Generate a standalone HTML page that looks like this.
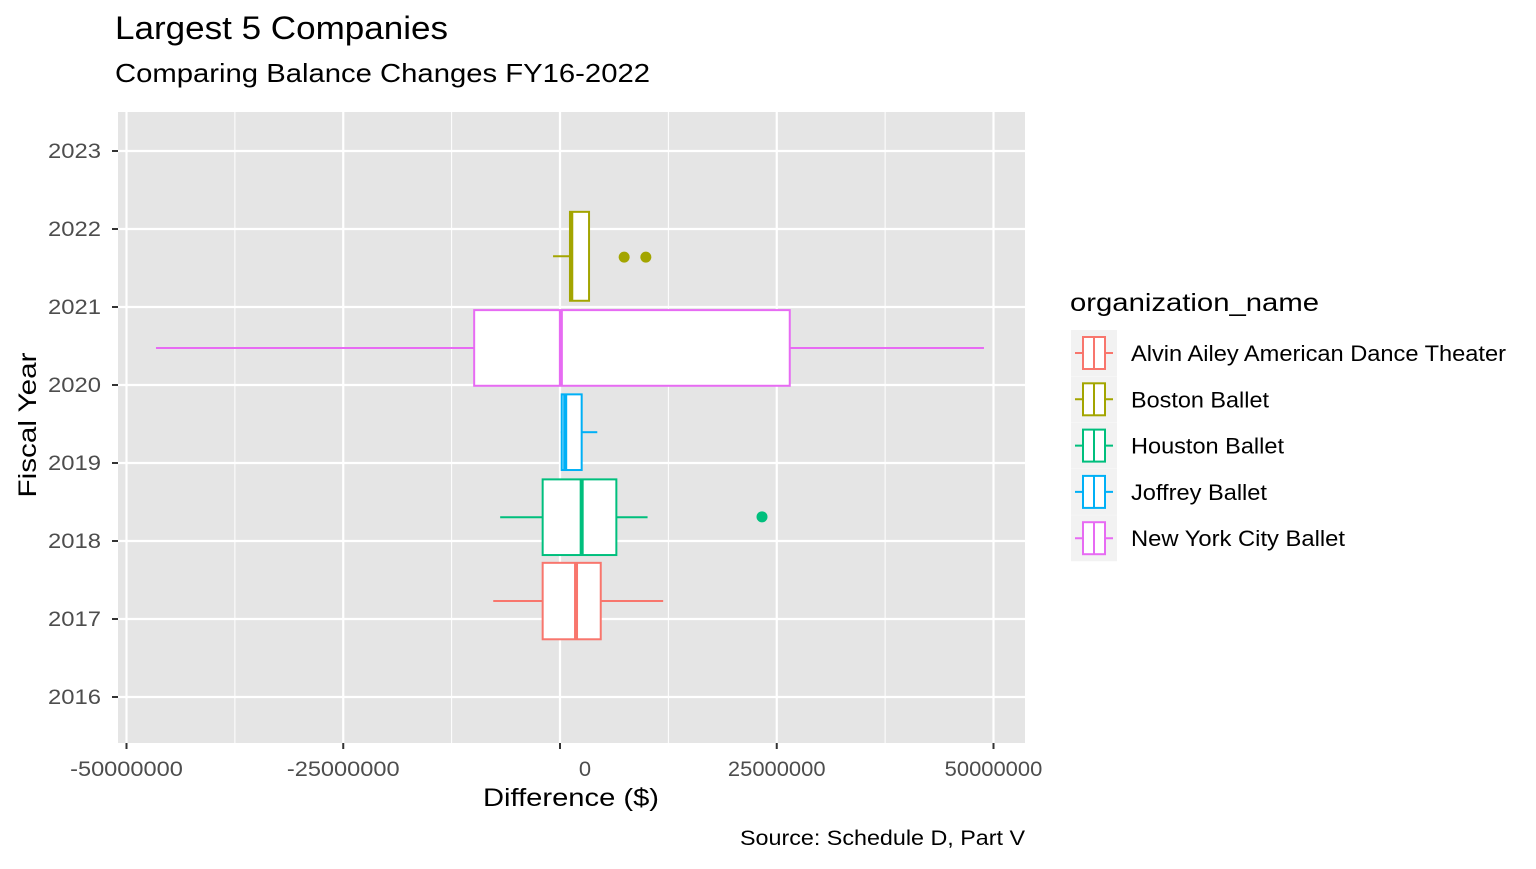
<!DOCTYPE html>
<html><head><meta charset="utf-8"><style>
body{margin:0;background:#fff;font-family:"Liberation Sans",Arial,sans-serif}
</style></head><body>
<svg id="chart" width="1536" height="864" xmlns="http://www.w3.org/2000/svg" font-family="Liberation Sans, Arial, sans-serif">
<text x="115" y="39" font-size="32" textLength="333" lengthAdjust="spacingAndGlyphs" fill="#000">Largest 5 Companies</text>
<text x="115" y="82" font-size="26" textLength="535" lengthAdjust="spacingAndGlyphs" fill="#000">Comparing Balance Changes FY16-2022</text>
<rect x="118" y="112" width="907" height="631" fill="#e5e5e5"/>
<g id="grid"></g>
<g id="boxes"></g>
<g id="axes"></g>
<text x="571" y="806" font-size="25" text-anchor="middle" textLength="176" lengthAdjust="spacingAndGlyphs">Difference ($)</text>
<text transform="translate(36,425) rotate(-90)" font-size="25" text-anchor="middle" textLength="145" lengthAdjust="spacingAndGlyphs">Fiscal Year</text>
<text x="1025" y="845" font-size="21" text-anchor="end" textLength="285" lengthAdjust="spacingAndGlyphs">Source: Schedule D, Part V</text>
<text x="1070" y="311" font-size="25" textLength="249" lengthAdjust="spacingAndGlyphs">organization_name</text>
<g id="legend"></g>
</svg>
<script>
const orgs=["Alvin Ailey American Dance Theater","Boston Ballet","Houston Ballet","Joffrey Ballet","New York City Ballet"];
const colors=["#F8766D","#A3A500","#00BF7D","#00B0F6","#E76BF3"];
const yMin=[2016.74,2021.08,2017.82,2018.91,2019.99];
const yMax=[2017.72,2022.22,2018.79,2019.88,2020.96];
const wLow=[-7.7e6,-0.8e6,-6.9e6,0.1e6,-46.6e6];
const q1=[-2.0e6,1.15e6,-2.0e6,0.2e6,-9.9e6];
const med=[1.85e6,1.3e6,2.5e6,0.6e6,0.1e6];
const q3=[4.7e6,3.35e6,6.5e6,2.5e6,26.5e6];
const wHigh=[11.9e6,3.35e6,10.1e6,4.3e6,48.9e6];
const outX=[23.3e6,7.4e6,9.9e6];
const outY=[2018.31,2021.64,2021.64];
const outOrg=[2,1,1];
const xTicks=[-50000000,-25000000,0,25000000,50000000];
const xMinor=[-37500000,-12500000,12500000,37500000];
const yTicks=[2016,2017,2018,2019,2020,2021,2022,2023];
const legendW=[375,138,153,136,214];
const NS="http://www.w3.org/2000/svg";
const X=v=>560+v*216.75/25e6;
const Y=v=>697-(v-2016)*78;
function mk(p,t,a){const e=document.createElementNS(NS,t);for(const k in a)e.setAttribute(k,a[k]);p.appendChild(e);return e;}
const g=document.getElementById('grid'),b=document.getElementById('boxes'),ax=document.getElementById('axes'),lg=document.getElementById('legend');
xMinor.forEach(v=>{const l=mk(g,'line',{x1:X(v),x2:X(v),y1:112,y2:743,stroke:'#fff','stroke-width':1});

});
xTicks.forEach(v=>{const l=mk(g,'line',{x1:X(v),x2:X(v),y1:112,y2:743,stroke:'#fff','stroke-width':2.2});


mk(ax,'line',{x1:X(v),x2:X(v),y1:743,y2:749,stroke:'#333','stroke-width':2});
const s=String(v);
const t=mk(ax,'text',{x:v===0?X(v)+25:X(v),y:776,'font-size':21,fill:'#4d4d4d','text-anchor':'middle',textLength:s.length*12.2+(v<0?3:0),lengthAdjust:'spacingAndGlyphs'});t.textContent=s;

});
yTicks.forEach(v=>{const l=mk(g,'line',{x1:118,x2:1025,y1:Y(v),y2:Y(v),stroke:'#fff','stroke-width':2.2});


mk(ax,'line',{x1:112,x2:118,y1:Y(v),y2:Y(v),stroke:'#333','stroke-width':2});
const t=mk(ax,'text',{x:101,y:Y(v)+7,'font-size':21,fill:'#4d4d4d','text-anchor':'end',textLength:53,lengthAdjust:'spacingAndGlyphs'});t.textContent=String(v);

});
orgs.forEach((o,i)=>{const c=colors[i];const y0=Y(yMin[i]),y1=Y(yMax[i]),ym=(y0+y1)/2;
const grp=mk(b,'g',{});


mk(grp,'line',{x1:X(wLow[i]),x2:X(q1[i]),y1:ym,y2:ym,stroke:c,'stroke-width':2});
mk(grp,'line',{x1:X(q3[i]),x2:X(wHigh[i]),y1:ym,y2:ym,stroke:c,'stroke-width':2});
mk(grp,'rect',{x:X(q1[i]),y:Math.min(y0,y1),width:X(q3[i])-X(q1[i]),height:Math.abs(y1-y0),fill:'#fff',stroke:c,'stroke-width':2});
mk(grp,'line',{x1:X(med[i]),x2:X(med[i]),y1:y0,y2:y1,stroke:c,'stroke-width':4});
const ly=353+i*46.3;
const k=mk(lg,'g',{});


mk(k,'rect',{x:1071,y:ly-23,width:46,height:46,fill:'#f2f2f2'});
mk(k,'line',{x1:1075,x2:1113,y1:ly,y2:ly,stroke:c,'stroke-width':2});
mk(k,'rect',{x:1083,y:ly-16,width:22,height:32,fill:'#fff',stroke:c,'stroke-width':2});
mk(k,'line',{x1:1094,x2:1094,y1:ly-16,y2:ly+16,stroke:c,'stroke-width':2});
const t=mk(k,'text',{x:1131,y:ly+8,'font-size':22,textLength:legendW[i],lengthAdjust:'spacingAndGlyphs'});t.textContent=o;});
outX.forEach((v,j)=>{const p=mk(b,'circle',{cx:X(v),cy:Y(outY[j]),r:5.5,fill:colors[outOrg[j]]});

});
</script>
</body></html>
